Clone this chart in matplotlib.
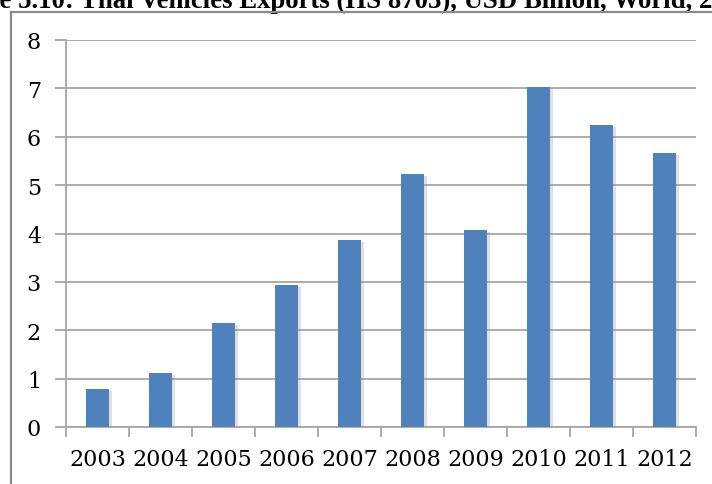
import matplotlib
matplotlib.use("Agg")
import matplotlib.pyplot as plt
from matplotlib.lines import Line2D
import matplotlib.patheffects as pe

years = ["2003", "2004", "2005", "2006", "2007", "2008", "2009", "2010", "2011", "2012"]
values = [0.78, 1.12, 2.16, 2.93, 3.86, 5.23, 4.07, 7.02, 6.25, 5.66]
yticks = [0, 1, 2, 3, 4, 5, 6, 7, 8]
title = "Figure 5.10: Thai Vehicles Exports (HS 8703), USD Billion, World, 2003-2012"

W, H = 712, 485
fig = plt.figure(figsize=(W / 100, H / 100), dpi=100)
fig.patch.set_facecolor("white")

# chart frame (left and top edges visible)
frame_c = "#8a8a8a"
fig.add_artist(Line2D([10.5 / W, 10.5 / W], [0, 1 - 12.5 / H], transform=fig.transFigure,
                      color=frame_c, linewidth=1.6, solid_capstyle="projecting", zorder=5))
fig.add_artist(Line2D([10.5 / W, 1.01], [1 - 12.5 / H, 1 - 12.5 / H], transform=fig.transFigure,
                      color=frame_c, linewidth=1.6, solid_capstyle="projecting", zorder=5))

ax = fig.add_axes([66 / W, 1 - 428 / H, (696 - 66) / W, (428 - 41) / H])
x = list(range(len(years)))
bars = ax.bar(x, values, width=0.38, color="#4F81BD", zorder=3)
for b in bars:
    b.set_path_effects([pe.SimplePatchShadow(offset=(1.5, -1.5), shadow_rgbFace="#9a9a9a", alpha=0.3),
                        pe.Normal()])

ax.set_xlim(-0.5, len(years) - 0.5)
ax.set_ylim(0, 8)
ax.set_yticks(yticks)
ax.set_yticklabels([str(t) for t in yticks])
ax.set_xticks([i - 0.5 for i in range(len(years) + 1)], minor=False)
ax.set_xticklabels([])
ax.set_xticks(x, minor=True)
ax.set_xticklabels(years, minor=True)

grid_c = "#a6a6a6"
ax.yaxis.grid(True, color=grid_c, linewidth=1.3, zorder=0)
ax.set_axisbelow(True)
for s in ["top", "right"]:
    ax.spines[s].set_visible(False)
ax.spines["left"].set_color(grid_c)
ax.spines["left"].set_linewidth(1.3)
ax.spines["bottom"].set_color(grid_c)
ax.spines["bottom"].set_linewidth(1.3)

ax.tick_params(axis="y", which="major", length=8, width=1.3, color=grid_c, pad=10,
               labelsize=16, labelcolor="black")
ax.tick_params(axis="x", which="major", length=7, width=1.3, color=grid_c, direction="out")
ax.tick_params(axis="x", which="minor", length=0, pad=15, labelsize=16, labelcolor="black")
for lbl in ax.get_yticklabels() + ax.get_xticklabels(minor=True):
    lbl.set_fontfamily("DejaVu Serif")

# title, clipped at figure edges like the reference
tfont = dict(family="Liberation Serif", weight="bold", size=19.3)
fig.canvas.draw()
r = fig.canvas.get_renderer()
tmp = fig.text(0, 0, "Figur", **tfont)
wpx = tmp.get_window_extent(r).width
tmp.remove()
fig.text(-wpx / W, 1 - 8.5 / H, title, ha="left", va="baseline", **tfont)

fig.savefig("out.png", dpi=100)
